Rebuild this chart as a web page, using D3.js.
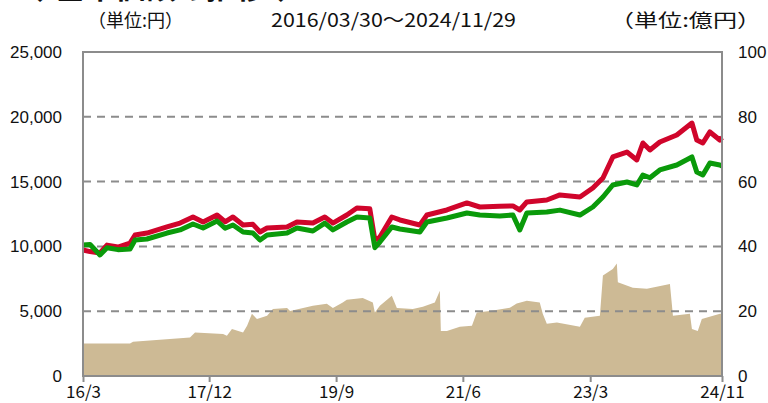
<!DOCTYPE html>
<html>
<head>
<meta charset="utf-8">
<script src="https://cdn.jsdelivr.net/npm/d3@7"></script>
<style>
  html, body { margin: 0; padding: 0; background: #fff; }
  svg text { fill: #111; }
</style>
</head>
<body>
<svg id="chart" width="768" height="403"></svg>
<script>
// price series (円), red = 基準価額, green = second series
const navDates = ['2016-03-30', '2016-05-04', '2016-06-22', '2016-07-27', '2016-09-19', '2016-11-18',
  '2016-12-13', '2017-02-10', '2017-05-20', '2017-07-24', '2017-09-26', '2017-11-15', '2018-01-23',
  '2018-03-04', '2018-04-12', '2018-06-01', '2018-07-20', '2018-08-24', '2018-09-28', '2019-01-05',
  '2019-02-23', '2019-05-13', '2019-07-11', '2019-08-20', '2019-10-28', '2019-12-17', '2020-02-19',
  '2020-03-15', '2020-04-09', '2020-06-07', '2020-07-17', '2020-10-24', '2020-11-28', '2021-03-07',
  '2021-06-14', '2021-08-17', '2021-11-24', '2022-01-28', '2022-03-03', '2022-04-07', '2022-07-15',
  '2022-09-18', '2022-12-26', '2023-02-28', '2023-04-19', '2023-06-07', '2023-08-16', '2023-10-04',
  '2023-11-03', '2023-12-08', '2024-01-26', '2024-04-19', '2024-07-03', '2024-07-27', '2024-08-26',
  '2024-09-30', '2024-11-18', '2024-11-29'];
const navRed = [9720, 9600, 9490, 10100, 9950, 10260,
  10880, 11030, 11500, 11800, 12270, 11880, 12420,
  11900, 12270, 11650, 11700, 11110, 11420, 11500,
  11880, 11800, 12270, 11800, 12420, 12960, 12900,
  10500, 10720, 12270, 12040, 11650, 12420, 12810,
  13350, 13040, 13100, 13120, 12810, 13430, 13580,
  13970, 13810, 14510, 15280, 16900, 17280, 16670,
  17980, 17440, 18060, 18600, 19520, 18210, 17980,
  18830, 18210, 18400];
const navGreen = [10100, 10150, 9340, 9900, 9750, 9800,
  10490, 10570, 11030, 11270, 11730, 11420, 11960,
  11400, 11650, 11110, 11030, 10490, 10880, 11030,
  11420, 11190, 11800, 11270, 11880, 12270, 12190,
  9900, 10340, 11500, 11340, 11110, 11880, 12190,
  12580, 12420, 12350, 12420, 11270, 12580, 12650,
  12800, 12420, 13040, 13810, 14740, 14970, 14740,
  15510, 15300, 15900, 16280, 16900, 15740, 15510,
  16430, 16280, 16200];

// net assets (億円)
const assetDates = ['2016-03-30', '2016-11-18', '2016-12-03', '2017-09-11', '2017-10-06', '2018-02-22',
  '2018-03-13', '2018-04-07', '2018-06-01', '2018-06-21', '2018-07-15', '2018-08-09', '2018-09-28',
  '2018-10-27', '2019-01-05', '2019-01-20', '2019-05-13', '2019-07-21', '2019-08-20', '2019-10-08',
  '2019-10-28', '2020-01-15', '2020-03-05', '2020-03-15', '2020-04-09', '2020-06-07', '2020-07-02',
  '2020-09-19', '2020-11-08', '2021-01-06', '2021-01-31', '2021-02-05', '2021-03-07', '2021-05-10',
  '2021-07-09', '2021-08-02', '2021-10-06', '2022-01-13', '2022-02-16', '2022-04-07', '2022-06-10',
  '2022-06-25', '2022-07-15', '2022-09-03', '2022-12-26', '2023-01-19', '2023-04-04', '2023-04-19',
  '2023-06-07', '2023-06-27', '2023-07-02', '2023-09-14', '2023-11-23', '2024-03-16', '2024-03-31',
  '2024-06-23', '2024-07-03', '2024-08-01', '2024-08-21', '2024-11-19', '2024-11-29'];
const assetValues = [10, 10, 10.6, 11.9, 13.4, 13,
  12.4, 14.5, 13.4, 15.5, 19.2, 17.6, 18.6,
  20.7, 21, 20.1, 21.7, 22.3, 21, 22.7,
  23.5, 24.1, 22.7, 19.6, 21.7, 24.8, 21,
  20.7, 21.4, 22.7, 26.3, 13.9, 13.9, 15.2,
  15.5, 19.6, 20.1, 21.1, 22.4, 23.2, 22.7,
  19.2, 16.1, 16.5, 15.2, 18, 18.6, 31,
  33, 34.7, 28.9, 27.2, 26.9, 28.4, 18.6,
  19.2, 14.5, 13.9, 17.6, 19.2, 19.2];

const xTickDates = ['2016-03-30', '2017-12-15', '2019-09-05', '2021-05-25', '2023-02-15', '2024-11-29'];
const xTickLabels = ['16/3', '17/12', '19/9', '21/6', '23/3', '24/11'];
const leftTicks = [0, 5000, 10000, 15000, 20000, 25000];
const rightTicks = [0, 20, 40, 60, 80, 100];

const parse = d3.timeParse('%Y-%m-%d');
const jp = '"Noto Sans CJK JP", sans-serif';
const num = '"Liberation Sans", Arial, sans-serif';

const plotLeft = 83, plotRight = 722, plotTop = 52, plotBottom = 376;
const svg = d3.select('#chart');

const x = d3.scaleTime()
  .domain([parse('2016-03-30'), parse('2024-11-29')])
  .range([plotLeft, plotRight]);
const yL = d3.scaleLinear().domain([0, 25000]).range([plotBottom, plotTop]);
const yR = d3.scaleLinear().domain([0, 100]).range([plotBottom, plotTop]);

// header texts; the title is cut off at the top edge, as in the source
const fitted = (txt, x0, y0, w, font) => svg.append('text')
  .attr('x', x0).attr('y', y0)
  .attr('textLength', w)
  .attr('lengthAdjust', 'spacingAndGlyphs')
  .style('font', font)
  .text(txt);

fitted('◆基準価額の推移◆', 25, -1, 271, `bold 26px ${jp}`);
fitted('（単位:円）', 88, 27, 95, `18px ${jp}`);
fitted('2016/03/30～2024/11/29', 271, 27, 245, `19px ${jp}`);
fitted('（単位:億円）', 610, 27, 151, `18px ${jp}`);

// area: net assets
const assets = assetDates.map((d, i) => ({ date: parse(d), value: assetValues[i] }));
svg.append('path')
  .datum(assets)
  .attr('fill', '#cdba95')
  .attr('d', d3.area()
    .x(d => x(d.date))
    .y0(plotBottom)
    .y1(d => yR(d.value)));

// dashed grid
svg.append('g')
  .selectAll('line')
  .data(leftTicks.filter(t => t > 0 && t < 25000))
  .join('line')
    .attr('x1', plotLeft).attr('x2', plotRight)
    .attr('y1', d => yL(d)).attr('y2', d => yL(d))
    .attr('stroke', '#8c8c8c')
    .attr('stroke-width', 2)
    .attr('stroke-dasharray', '8,6');

// lines
const nav = navDates.map((d, i) => ({ date: parse(d), red: navRed[i], green: navGreen[i] }));
const lineFor = key => d3.line().x(d => x(d.date)).y(d => yL(d[key]));

svg.append('path')
  .datum(nav)
  .attr('fill', 'none')
  .attr('stroke', '#d0052b')
  .attr('stroke-width', 5)
  .attr('stroke-linejoin', 'round')
  .attr('d', lineFor('red'));

svg.append('path')
  .datum(nav)
  .attr('fill', 'none')
  .attr('stroke', '#0a9a0a')
  .attr('stroke-width', 5)
  .attr('stroke-linejoin', 'round')
  .attr('d', lineFor('green'));

// frame
svg.append('rect')
  .attr('x', plotLeft).attr('y', plotTop)
  .attr('width', plotRight - plotLeft).attr('height', plotBottom - plotTop)
  .attr('fill', 'none')
  .attr('stroke', '#8c8c8c')
  .attr('stroke-width', 2);

// axes
const xAxis = d3.axisBottom(x)
  .tickValues(xTickDates.map(parse))
  .tickFormat((d, i) => xTickLabels[i])
  .tickSize(6)
  .tickPadding(4);

const gx = svg.append('g')
  .attr('transform', `translate(0,${plotBottom})`)
  .call(xAxis);
gx.select('.domain').remove();
gx.selectAll('.tick line').attr('stroke', '#8c8c8c').attr('stroke-width', 2);
gx.selectAll('.tick text')
  .style('font', `17px ${jp}`)
  .attr('dy', '0.72em');

const gl = svg.append('g')
  .attr('transform', `translate(${plotLeft},0)`)
  .call(d3.axisLeft(yL).tickValues(leftTicks).tickFormat(d3.format(',')).tickSize(0).tickPadding(21));
gl.select('.domain').remove();
gl.selectAll('.tick text').style('font', `17px ${num}`);

const gr = svg.append('g')
  .attr('transform', `translate(${plotRight},0)`)
  .call(d3.axisRight(yR).tickValues(rightTicks).tickSize(0).tickPadding(16));
gr.select('.domain').remove();
gr.selectAll('.tick text').style('font', `17px ${num}`);
</script>
</body>
</html>
